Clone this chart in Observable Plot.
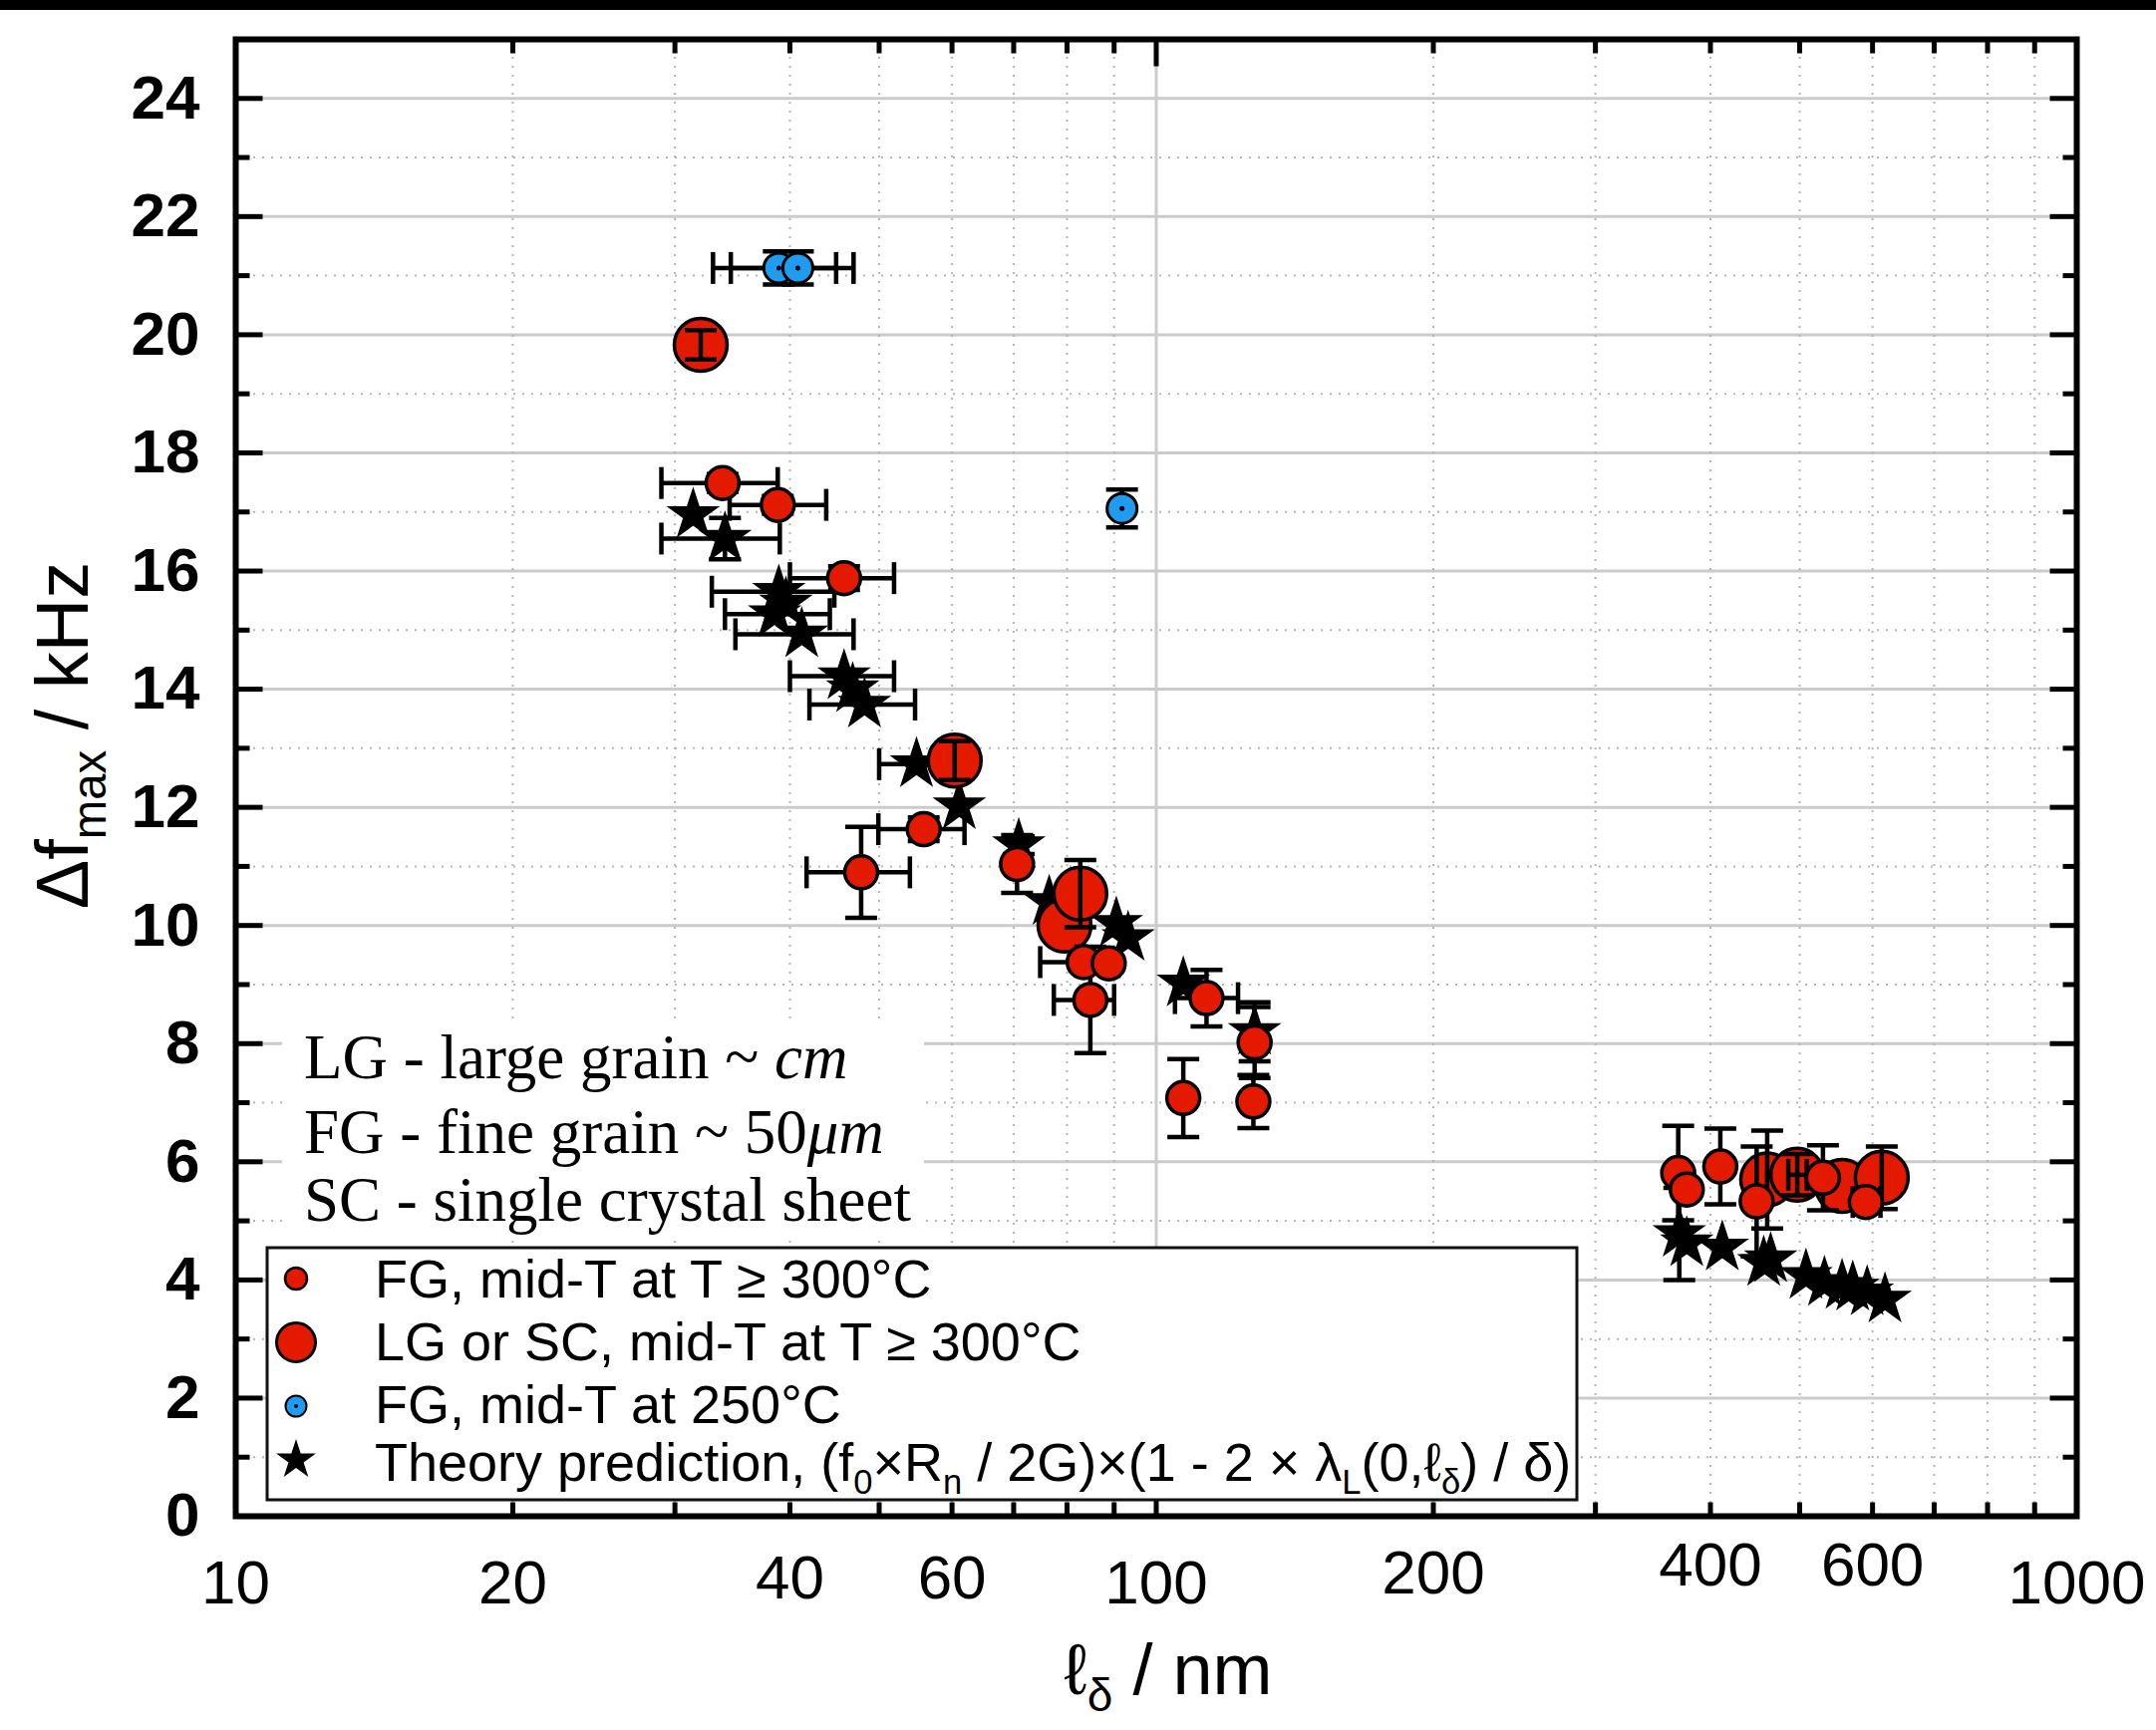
<!DOCTYPE html>
<html><head><meta charset="utf-8">
<script src="https://cdn.jsdelivr.net/npm/d3@7"></script>
<script src="https://cdn.jsdelivr.net/npm/@observablehq/plot@0.6"></script>
<style>
html,body{margin:0;padding:0;background:#fff;}
#chart{position:relative;width:2163px;height:1736px;}
</style></head><body><div id="chart"></div>
<script>
// ---------- data: rows are [ℓδ (nm), Δf (kHz), x-error low, x-error high, ±y-error] ----------
const theoryStars = [
  [31.4, 16.95, null, null, null],
  [34.0, 16.55, 29.0, 39.0, 0.35],
  [38.9, 15.65, 32.9, 44.7, null],
  [39.6, 15.45, null, null, null],
  [38.5, 15.27, 34.0, 44.2, null],
  [41.2, 14.93, 34.9, 46.9, null],
  [45.8, 14.22, 40.0, 51.9, null],
  [46.8, 14.00, null, null, null],
  [48.2, 13.74, 42.0, 54.7, null],
  [54.9, 12.73, 50.0, 60.3, null],
  [61.1, 12.02, null, null, null],
  [70.9, 11.36, null, null, 0.15],
  [76.5, 10.40, null, null, null],
  [90.5, 10.03, null, null, null],
  [93.2, 9.79, null, null, null],
  [107, 9.02, null, null, null],
  [127.9, 8.20, null, null, 0.5],
  [370, 4.78, null, null, 0.78],
  [377, 4.62, null, null, null],
  [412, 4.55, null, null, null],
  [457, 4.29, null, null, null],
  [465, 4.35, null, null, null],
  [508, 4.07, null, null, null],
  [532, 3.95, null, null, null],
  [556, 3.90, null, null, null],
  [571, 3.87, null, null, null],
  [592, 3.79, null, null, null],
  [619, 3.67, null, null, null]
];
const lgScPoints = [
  [32.0, 19.83, null, null, 0.25],
  [60.4, 12.79, null, null, 0.33],
  [79.5, 10.00, null, null, null],
  [82.7, 10.54, null, null, 0.57],
  [461, 5.70, null, null, 0.83],
  [497, 5.78, 486, 509, 0.35],
  [556, 5.59, null, null, null],
  [614, 5.73, null, null, 0.53]
];
const fgHotPoints = [
  [33.8, 17.49, 29.0, 38.8, 0.15],
  [38.8, 17.12, 34.4, 43.8, 0.15],
  [45.8, 15.88, 40.0, 51.9, 0.2],
  [55.9, 11.63, 49.9, 61.9, 0.2],
  [47.8, 10.90, 41.7, 54.0, 0.77],
  [70.6, 11.04, null, null, 0.49],
  [83.4, 9.38, 74.8, 91.0, null],
  [88.8, 9.36, null, null, null],
  [84.8, 8.74, 77.4, 90.0, 0.9],
  [113.4, 8.77, 104.8, 122.7, 0.48],
  [127.9, 8.02, null, null, 0.6],
  [107.0, 7.08, null, null, 0.66],
  [127.5, 7.02, null, null, 0.45],
  [369, 5.81, null, null, 0.8],
  [377, 5.53, null, null, null],
  [410, 5.92, null, null, 0.64],
  [449, 5.33, null, null, 0.93],
  [530, 5.73, null, null, 0.55],
  [590, 5.32, 571, 612, null]
];
const fg250Points = [
  [38.9, 21.13, 33.0, 44.9, 0.28],
  [40.8, 21.13, 34.5, 46.9, 0.28],
  [91.8, 17.06, null, null, 0.32]
];
const yLabelTicks = [0, 2, 4, 6, 8, 10, 12, 14, 16, 18, 20, 22, 24];
const yMinorTicks = [1, 3, 5, 7, 9, 11, 13, 15, 17, 19, 21, 23];
const xMajorTicks = [100];
const xMinorTicks = [20, 30, 40, 50, 60, 70, 80, 90, 200, 300, 400, 500, 600, 700, 800, 900];
const xLabelsLow = [10, 20, 100, 1000];
const xLabelsMid = [40, 60];
const xLabelsHi1 = [200];
const xLabelsHi2 = [400, 600];
const legendLabels = [
  "FG, mid-T at T \u2265 300\u00b0C",
  "LG or SC, mid-T at T \u2265 300\u00b0C",
  "FG, mid-T at 250\u00b0C"
];

// ---------- styling ----------
const RED = "#e31a00", BLUE = "#1f9cf0";
const EB = 4.5;
const bar = {draw(ctx, l) { ctx.moveTo(0, 0); ctx.lineTo(0, -l); }};

function errMarks(rows, sw) {
  const hx = rows.filter(d => d[2] != null);
  const vy = rows.filter(d => d[4] != null);
  const c = {stroke: "black", strokeWidth: sw, strokeLinecap: "butt"};
  return [
    Plot.ruleY(hx, {y: d => d[1], x1: d => d[2], x2: d => d[3], ...c}),
    Plot.vector(hx, {x: d => d[2], y: d => d[1], length: 32, rotate: 0, anchor: "middle", shape: bar, ...c}),
    Plot.vector(hx, {x: d => d[3], y: d => d[1], length: 32, rotate: 0, anchor: "middle", shape: bar, ...c}),
    Plot.ruleX(vy, {x: d => d[0], y1: d => d[1] - d[4], y2: d => d[1] + d[4], ...c}),
    Plot.vector(vy, {x: d => d[0], y: d => d[1] - d[4], length: 32, rotate: 90, anchor: "middle", shape: bar, ...c}),
    Plot.vector(vy, {x: d => d[0], y: d => d[1] + d[4], length: 32, rotate: 90, anchor: "middle", shape: bar, ...c})
  ];
}
function frameTicks(vals, side, len) {
  const rot = {left: 90, right: -90, bottom: 0, top: 180}[side];
  const ch = (side === "left" || side === "right") ? {y: d => d} : {x: d => d};
  return Plot.vector(vals, {...ch, frameAnchor: side, rotate: rot, length: len, anchor: "start",
    shape: bar, stroke: "black", strokeWidth: 5, strokeLinecap: "butt"});
}
const xAxisLabels = (vals, pad) => Plot.axisX(vals, {anchor: "bottom", tickSize: 0, tickPadding: pad,
  tickFormat: d => String(d), fontSize: 62, label: null});

const chart = Plot.plot({
  width: 2163, height: 1736,
  marginLeft: 236, marginRight: 80, marginTop: 39, marginBottom: 215,
  x: {type: "log", domain: [10, 1000]},
  y: {domain: [0, 25]},
  style: {fontFamily: "'Liberation Sans', Arial, sans-serif", background: "white", color: "black"},
  marks: [
    Plot.gridY(yLabelTicks, {stroke: "#cbcbcb", strokeOpacity: 1, strokeWidth: 3}),
    Plot.gridY(yMinorTicks, {stroke: "#b5b5b5", strokeOpacity: 1, strokeWidth: 2, strokeDasharray: "2,7"}),
    Plot.gridX(xMajorTicks, {stroke: "#cbcbcb", strokeOpacity: 1, strokeWidth: 3}),
    Plot.gridX(xMinorTicks, {stroke: "#b5b5b5", strokeOpacity: 1, strokeWidth: 2, strokeDasharray: "2,7"}),
    frameTicks(yLabelTicks, "left", 27), frameTicks(yMinorTicks, "left", 14),
    frameTicks(yLabelTicks, "right", 27), frameTicks(yMinorTicks, "right", 14),
    frameTicks(xMajorTicks, "bottom", 27), frameTicks(xMinorTicks, "bottom", 14),
    frameTicks(xMajorTicks, "top", 27), frameTicks(xMinorTicks, "top", 14),
    Plot.frame({stroke: "black", strokeWidth: 6}),
    Plot.axisY(yLabelTicks, {anchor: "left", tickSize: 0, tickPadding: 36, fontSize: 62, fontWeight: "bold",
      tickFormat: d => String(d), label: null}),
    xAxisLabels(xLabelsLow, 43), xAxisLabels(xLabelsMid, 38), xAxisLabels(xLabelsHi1, 33), xAxisLabels(xLabelsHi2, 25),
    // theory stars
    ...errMarks(theoryStars, EB),
    Plot.dot(theoryStars, {x: d => d[0], y: d => d[1], symbol: "star", r: 15.5, fill: "black", stroke: "black", strokeWidth: 1.5}),
    // LG / SC
    Plot.dot(lgScPoints, {x: d => d[0], y: d => d[1], r: 26.5, fill: RED, stroke: "black", strokeWidth: 3.5}),
    ...errMarks(lgScPoints, EB),
    // FG hot
    ...errMarks(fgHotPoints, EB),
    Plot.dot(fgHotPoints, {x: d => d[0], y: d => d[1], r: 16.5, fill: RED, stroke: "black", strokeWidth: 3.5}),
    // FG 250
    ...errMarks(fg250Points, EB),
    Plot.dot(fg250Points, {x: d => d[0], y: d => d[1], r: 15, fill: BLUE, stroke: "black", strokeWidth: 3}),
    Plot.dot(fg250Points, {x: d => d[0], y: d => d[1], r: 2.5, fill: "black"})
  ]
});
document.getElementById("chart").appendChild(chart);

// ---------- overlays: labels, annotation, legend ----------
const svg = d3.select(chart);
const SANS = "'Liberation Sans', Arial, sans-serif";
const SERIF = "'Liberation Serif', 'Times New Roman', serif";
svg.append("rect").attr("x", 0).attr("y", 0).attr("width", 2163).attr("height", 10).attr("fill", "black");

function richText(g, parts, size) {
  let shifted = false;
  for (const [t, kind] of parts) {
    const ts = g.append("tspan").text(t);
    if (kind === "s") {
      ts.attr("font-size", size * 0.64).attr("dy", shifted ? 0 : size * 0.24);
      shifted = true;
    } else {
      ts.attr("font-size", size);
      if (shifted) { ts.attr("dy", -size * 0.24); shifted = false; }
      if (kind === "i") ts.attr("font-style", "italic");
    }
  }
}

// y label
const yl = svg.append("text").attr("transform", "translate(88,738) rotate(-90)")
  .attr("text-anchor", "middle").attr("font-family", SANS).attr("fill", "black");
richText(yl, [["\u0394f", "n"], ["max", "s"], [" / kHz", "n"]], 74);

// x label
const xl = svg.append("text").attr("x", 1172).attr("y", 1700)
  .attr("text-anchor", "middle").attr("font-family", SANS).attr("fill", "black");
richText(xl, [["\u2113", "n"], ["\u03b4", "s"], [" / nm", "n"]], 72);

// annotation box
const ann = svg.append("g").attr("text-anchor", "start");
ann.append("rect").attr("x", 283).attr("y", 1025).attr("width", 644).attr("height", 215).attr("fill", "white");
const annLines = [
  [["LG - large grain ~ ", "n"], ["cm", "i"]],
  [["FG - fine grain ~ 50", "n"], ["\u03bcm", "i"]],
  [["SC - single crystal sheet", "n"]]
];
[1082, 1157, 1225].forEach((by, i) => {
  const t = ann.append("text").attr("x", 305).attr("y", by).attr("text-anchor", "start")
    .attr("font-family", SERIF).attr("fill", "black");
  richText(t, annLines[i], 63);
});

// legend
const lg = svg.append("g").attr("text-anchor", "start");
lg.append("rect").attr("x", 268).attr("y", 1252).attr("width", 1314).attr("height", 253)
  .attr("fill", "white").attr("stroke", "#111").attr("stroke-width", 3);
const rowsY = [1283, 1347, 1411, 1465];
const baseY = [1302, 1365, 1428, 1486];
lg.append("circle").attr("cx", 297).attr("cy", rowsY[0]).attr("r", 11).attr("fill", RED).attr("stroke", "black").attr("stroke-width", 2.5);
lg.append("circle").attr("cx", 297).attr("cy", rowsY[1]).attr("r", 19.5).attr("fill", RED).attr("stroke", "black").attr("stroke-width", 3);
lg.append("circle").attr("cx", 297).attr("cy", rowsY[2]).attr("r", 10.5).attr("fill", BLUE).attr("stroke", "black").attr("stroke-width", 2);
lg.append("circle").attr("cx", 297).attr("cy", rowsY[2]).attr("r", 2).attr("fill", "black");
lg.append("path").attr("transform", `translate(297,${rowsY[3]})`)
  .attr("d", d3.symbol(d3.symbolStar, Math.PI * 12.5 * 12.5)()).attr("fill", "black");
legendLabels.forEach((s, i) => {
  lg.append("text").attr("x", 376).attr("y", baseY[i]).attr("text-anchor", "start")
    .attr("font-family", SANS).attr("font-size", 54).attr("fill", "black").text(s);
});
const th = lg.append("text").attr("x", 376).attr("y", baseY[3]).attr("text-anchor", "start")
  .attr("font-family", SANS).attr("fill", "black");
richText(th, [["Theory prediction, (f", "n"], ["0", "s"], ["\u00d7R", "n"], ["n", "s"],
  [" / 2G)\u00d7(1 - 2 \u00d7 \u03bb", "n"], ["L", "s"], ["(0,\u2113", "n"], ["\u03b4", "s"], [") / \u03b4)", "n"]], 54);
</script>
</body></html>
